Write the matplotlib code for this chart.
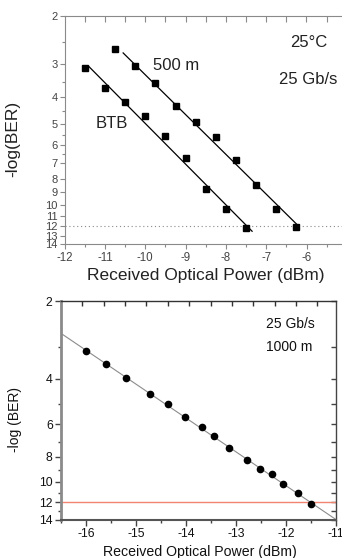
import numpy as np
import matplotlib
matplotlib.use("Agg")
import matplotlib.pyplot as plt
from matplotlib.ticker import FixedLocator, FixedFormatter, NullFormatter

plt.rcParams['font.family'] = ['Liberation Sans', 'DejaVu Sans']
plt.rcParams['axes.unicode_minus'] = False

# top panel: 25 Gb/s at 25 C, back-to-back and 500 m
btb_x = [-11.5, -11.0, -10.5, -10.0, -9.5, -9.0, -8.5, -8.0, -7.5]
btb_y = [3.11, 3.71, 4.16, 4.69, 5.55, 6.70, 8.73, 10.4, 12.2]
m500_x = [-10.75, -10.25, -9.75, -9.25, -8.75, -8.25, -7.75, -7.25, -6.75, -6.25]
m500_y = [2.66, 3.07, 3.54, 4.31, 4.93, 5.63, 6.85, 8.41, 10.32, 12.1]

# bottom panel: 25 Gb/s, 1000 m
km_x = [-16.0, -15.6, -15.2, -14.73, -14.36, -14.03, -13.69, -13.45, -13.15,
        -12.78, -12.53, -12.29, -12.06, -11.77, -11.51]
km_y = [3.11, 3.50, 3.97, 4.59, 5.00, 5.60, 6.16, 6.63, 7.38,
        8.23, 8.92, 9.35, 10.16, 11.01, 12.14]

top_yticks = list(range(2, 15))
bot_yticks = list(range(2, 15, 2))

W, H = 342, 558
fig = plt.figure(figsize=(W / 100, H / 100), dpi=100)


def px_axes(left, top, width, height):
    return fig.add_axes([left / W, 1 - (top + height) / H, width / W, height / H])


def fit_line(x, y, x0, x1):
    # straight fit in -log(BER) log scale
    p = np.polyfit(x, np.log(y), 1)
    xx = np.array([x0, x1])
    return xx, np.exp(np.polyval(p, xx))


# ---------------- top panel ----------------
grey = '#8a8a8a'
ax = px_axes(64.7, 16, 282.1, 228.3)
ax.set_yscale('log')
ax.set_xlim(-12, -5)
ax.set_ylim(14, 2)
for s in ax.spines.values():
    s.set_color(grey)
    s.set_linewidth(0.8)
ax.spines['right'].set_visible(False)

ax.axhline(12, color=grey, ls=(0, (1, 2.5)), lw=0.8)

for xs, ys, xr in [(btb_x, btb_y, (-11.4, -7.35)), (m500_x, m500_y, (-10.55, -6.2))]:
    lx, ly = fit_line(xs, ys, *xr)
    ax.plot(lx, ly, color='black', lw=0.9)
    ax.plot(xs, ys, 's', color='black', ms=4.5)

ax.yaxis.set_major_locator(FixedLocator(top_yticks))
ax.yaxis.set_major_formatter(FixedFormatter([str(v) for v in top_yticks]))
ax.yaxis.set_minor_locator(FixedLocator(np.arange(2.5, 7, 1.0)))
ax.yaxis.set_minor_formatter(NullFormatter())
ax.set_xticks(range(-12, -5))
ax.set_xticks(np.arange(-11.5, -5, 1.0), minor=True)
ax.tick_params(axis='both', which='both', color=grey, labelcolor='#444444',
               labelsize=8.3, pad=2)
ax.tick_params(axis='y', labelsize=8.0, pad=1.5)
ax.tick_params(axis='both', which='major', length=3.5, width=0.8)
ax.tick_params(axis='both', which='minor', length=2.5, width=0.8)

# inward ticks along the top edge
axt = ax.secondary_xaxis('top')
axt.set_xticks(np.arange(-11.5, -5, 0.5))
axt.tick_params(direction='in', length=4, color=grey, labeltop=False, width=0.8)
axt.spines['top'].set_visible(False)

ax.set_xlabel('Received Optical Power (dBm)', fontsize=12.5, color='#222222')
ax.set_ylabel('-log(BER)', fontsize=12.5, color='#222222')
ax.xaxis.set_label_coords(0.499, -0.104)
ax.yaxis.set_label_coords(-0.158, 0.46)

fig.text(152.7 / W, 1 - 65 / H, '500 m', fontsize=12, color='#222222', va='center', ha='left')
fig.text(95.7 / W, 1 - 123.3 / H, 'BTB', fontsize=12, color='#222222', va='center', ha='left')
fig.text(309 / W, 1 - 42.3 / H, '25°C', fontsize=12, color='#222222', va='center', ha='center')
fig.text(307.8 / W, 1 - 79.3 / H, '25 Gb/s', fontsize=12, color='#222222', va='center', ha='center')

# ---------------- bottom panel ----------------
bx = px_axes(61, 301, 275, 218.7)
bx.set_yscale('log')
bx.set_xlim(-16.5, -11)
bx.set_ylim(14, 2)

lx, ly = fit_line(km_x, km_y, -16.5, -10.9)
bx.plot(lx, ly, color='#8c8c8c', lw=0.8)
bx.axhline(12, color='#f28472', lw=1.0)
bx.plot(km_x, km_y, 'o', color='black', ms=4.5)

bx.spines['left'].set_color('#8a8a8a')
bx.spines['left'].set_linewidth(2.0)
bx.spines['bottom'].set_color('#555555')
bx.spines['bottom'].set_linewidth(1.5)
bx.spines['top'].set_color('#333333')
bx.spines['top'].set_linewidth(1.0)
bx.spines['right'].set_color('#444444')
bx.spines['right'].set_linewidth(1.0)

bx.yaxis.set_major_locator(FixedLocator(bot_yticks))
bx.yaxis.set_major_formatter(FixedFormatter([str(v) for v in bot_yticks]))
bx.yaxis.set_minor_locator(FixedLocator(range(3, 14, 2)))
bx.yaxis.set_minor_formatter(NullFormatter())
bx.set_xticks(range(-16, -10))
bx.set_xticks(np.arange(-16.5, -11, 1.0), minor=True)
bx.tick_params(axis='both', which='both', color='#444444', labelcolor='#111111',
               labelsize=8.8, pad=2, width=1.0)
bx.tick_params(axis='both', which='major', length=4)
bx.tick_params(axis='both', which='minor', length=2.5)

# mirrored y ticks on the right, pointing inward
bxr = bx.secondary_yaxis('right')
bxr.yaxis.set_major_locator(FixedLocator(range(2, 15)))
bxr.yaxis.set_minor_locator(FixedLocator([]))
bxr.tick_params(direction='in', length=3.5, color='#444444', labelright=False, width=1.0)
bxr.spines['right'].set_visible(False)

# top edge ticks with their own spacing
bxt = bx.twiny()
bxt.set_xlim(0, 12.87)
bxt.set_xticks(range(1, 13))
bxt.tick_params(direction='in', length=3.5, color='#333333', labeltop=False, width=1.0)
for s in bxt.spines.values():
    s.set_visible(False)

bx.set_xlabel('Received Optical Power (dBm)', fontsize=10.2, color='#111111')
bx.set_ylabel('-log (BER)', fontsize=10, color='#111111')
bx.xaxis.set_label_coords(0.505, -0.115)
bx.yaxis.set_label_coords(-0.142, 0.456)

fig.text(265.7 / W, 1 - 324.3 / H, '25 Gb/s', fontsize=10, color='#111111', va='center', ha='left')
fig.text(265.7 / W, 1 - 347.3 / H, '1000 m', fontsize=10, color='#111111', va='center', ha='left')

fig.savefig('out.png', dpi=100)
